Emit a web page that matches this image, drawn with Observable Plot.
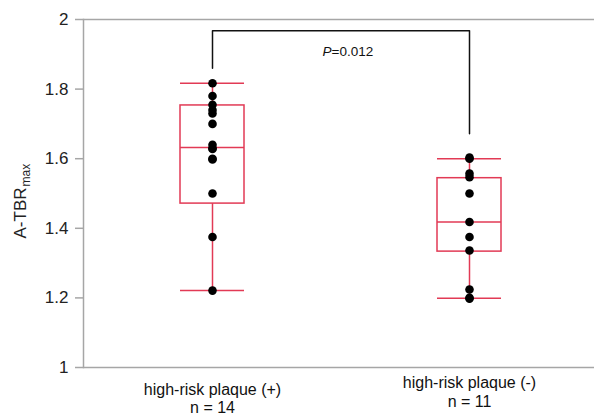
<!DOCTYPE html>
<html>
<head>
<meta charset="utf-8">
<script src="https://cdn.jsdelivr.net/npm/d3@7"></script>
<script src="https://cdn.jsdelivr.net/npm/@observablehq/plot@0.6"></script>
<style>
  html, body { margin: 0; padding: 0; background: #fff; }
  #chart { width: 594px; height: 416px; }
  svg { font-family: "Liberation Sans", Arial, sans-serif; }
</style>
</head>
<body>
<div id="chart"></div>
<script>
// ---- data ----
const groups = ["high-risk plaque (+)", "high-risk plaque (-)"];
const nLabels = ["n = 14", "n = 11"];
const valuesPos = [1.817, 1.78, 1.755, 1.74, 1.73, 1.70, 1.64, 1.63, 1.628, 1.60, 1.598, 1.50, 1.375, 1.221];
const valuesNeg = [1.603, 1.60, 1.557, 1.547, 1.50, 1.418, 1.375, 1.336, 1.224, 1.20, 1.198];
const whiskerLow = [1.221, 1.199];
const q1 = [1.471, 1.333];
const median = [1.632, 1.418];
const q3 = [1.753, 1.544];
const whiskerHigh = [1.817, 1.600];
const yTicks = [1, 1.2, 1.4, 1.6, 1.8, 2];
const bracketGroup = [groups[0], groups[0], groups[1], groups[1]];
const bracketY = [1.86, 1.968, 1.968, 1.672];
const pLabelY = 1.908;

// ---- tables ----
const boxes = groups.map((g, i) => ({
  g, lo: whiskerLow[i], q1: q1[i], med: median[i], q3: q3[i], hi: whiskerHigh[i], n: nLabels[i]
}));
const points = [
  ...valuesPos.map(v => ({g: groups[0], v})),
  ...valuesNeg.map(v => ({g: groups[1], v}))
];
const bracket = bracketGroup.map((g, i) => ({g, y: bracketY[i]}));

const red = "#e23a55";
const gray = "#a6a6a6";
const font = "Liberation Sans, Arial, sans-serif";

const chart = Plot.plot({
  width: 594,
  height: 416,
  marginLeft: 83,
  marginRight: 0,
  marginTop: 19,
  marginBottom: 49,
  style: {fontFamily: font, background: "#fff", color: "#222"},
  x: {type: "band", domain: groups, range: [180, 502], paddingInner: 0.75, paddingOuter: 0, axis: null},
  y: {domain: [1, 2], axis: null},
  marks: [
    Plot.ruleY([1, 2], {stroke: gray, strokeWidth: 1.5}),
    Plot.frame({anchor: "left", stroke: gray, strokeWidth: 1.5}),
    Plot.axisY({ticks: yTicks, tickSize: 8, tickPadding: 7, tickFormat: d => String(+d.toFixed(1)),
      fontSize: 17, stroke: gray, fill: "#222", strokeWidth: 1.5}),
    // y label with subscript
    Plot.text(["A-TBR"], {frameAnchor: "left", text: d => d, rotate: -90, textAnchor: "end",
      lineAnchor: "bottom", dx: -58, dy: -6, fontSize: 17, fill: "#222"}),
    Plot.text(["max"], {frameAnchor: "left", text: d => d, rotate: -90, textAnchor: "start",
      lineAnchor: "bottom", dx: -54, dy: -7, fontSize: 12, fill: "#222"}),
    // whiskers
    Plot.ruleX(boxes, {x: "g", y1: "lo", y2: "q1", stroke: red, strokeWidth: 1.5}),
    Plot.ruleX(boxes, {x: "g", y1: "q3", y2: "hi", stroke: red, strokeWidth: 1.5}),
    Plot.tickY(boxes, {x: "g", y: "lo", stroke: red, strokeWidth: 1.5}),
    Plot.tickY(boxes, {x: "g", y: "hi", stroke: red, strokeWidth: 1.5}),
    // box
    Plot.barY(boxes, {x: "g", y1: "q1", y2: "q3", fill: "none", stroke: red, strokeWidth: 1.5, insetLeft: 0, insetRight: 0}),
    Plot.tickY(boxes, {x: "g", y: "med", stroke: red, strokeWidth: 1.5}),
    // points
    Plot.dot(points, {x: "g", y: "v", r: 4.3, fill: "#000", stroke: "none"}),
    // bracket
    Plot.line(bracket, {x: "g", y: "y", stroke: "#111", strokeWidth: 1.5}),
    Plot.text([groups[0]], {x: d => d, y: () => pLabelY, text: () => "P", textAnchor: "end", dx: 119,
      fontSize: 13.5, fontStyle: "italic", fill: "#111", lineAnchor: "middle"}),
    Plot.text([groups[0]], {x: d => d, y: () => pLabelY, text: () => "=0.012", textAnchor: "start", dx: 119,
      fontSize: 13.5, fill: "#111", lineAnchor: "middle"}),
    // x labels
    Plot.text(boxes.slice(0, 1), {x: "g", frameAnchor: "bottom", text: "g", lineAnchor: "bottom", dy: 27, fontSize: 16, fill: "#111"}),
    Plot.text(boxes.slice(0, 1), {x: "g", frameAnchor: "bottom", text: "n", lineAnchor: "bottom", dy: 45, fontSize: 16, fill: "#111"}),
    Plot.text(boxes.slice(1, 2), {x: "g", frameAnchor: "bottom", text: "g", lineAnchor: "bottom", dy: 20, fontSize: 16, fill: "#111"}),
    Plot.text(boxes.slice(1, 2), {x: "g", frameAnchor: "bottom", text: "n", lineAnchor: "bottom", dy: 39, fontSize: 16, fill: "#111"})
  ]
});
document.getElementById("chart").appendChild(chart);
</script>
</body>
</html>
